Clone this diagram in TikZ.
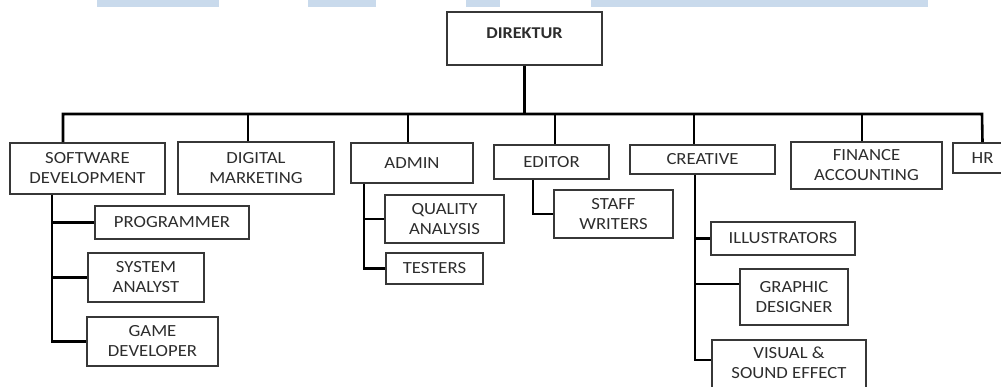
\documentclass[tikz,border=0pt]{standalone}
\usepackage{fontspec}
\setmainfont{Carlito}[FakeStretch=1.1]
\definecolor{stripblue}{RGB}{201,218,236}
\definecolor{boxline}{RGB}{55,55,55}
\definecolor{boxtext}{RGB}{45,45,45}
\tikzset{
  unit/.style={draw=boxline, line width=1.6pt, inner sep=0pt, align=center,
    text=boxtext, font=\fontsize{17}{20}\selectfont},
  link/.style={line width=2.6pt, black}
}
\begin{document}
\begin{tikzpicture}[x=1pt, y=-1pt]

    % Page size of the reference
    \useasboundingbox (0,0) rectangle (1001,386);
    \clip (0,0) rectangle (1001,386);

    % Light strips along the top edge
    \fill[stripblue] (97,0) rectangle (219,7);
    \fill[stripblue] (308,0) rectangle (376,7);
    \fill[stripblue] (466,0) rectangle (500,7);
    \fill[stripblue] (591,0) rectangle (928,7);

    % Head of the chart
    \node[unit, minimum width=155pt, minimum height=53pt, text depth=11pt,
      font=\fontsize{16.5}{19}\selectfont\bfseries] (direktur) at (524.5,38.5) {DIREKTUR};

    % Divisions
    \node[unit, minimum width=155pt, minimum height=51pt] (software) at (87.5,168.5) {SOFTWARE\\DEVELOPMENT};
    \node[unit, minimum width=156pt, minimum height=52pt] (digital) at (256,168) {DIGITAL\\MARKETING};
    \node[unit, minimum width=122pt, minimum height=40pt] (admin) at (412,163) {ADMIN};
    \node[unit, minimum width=115pt, minimum height=34pt] (editor) at (551.5,162) {EDITOR};
    \node[unit, minimum width=145pt, minimum height=29pt] (creative) at (702.5,159.5) {CREATIVE};
    \node[unit, minimum width=151pt, minimum height=47pt] (finance) at (866.5,165.5) {FINANCE\\ACCOUNTING};
    \node[unit, minimum width=59pt, minimum height=30pt] (hr) at (982.5,158) {HR};

    % Staff under software development
    \node[unit, minimum width=154pt, minimum height=33pt] (programmer) at (172,222.5) {PROGRAMMER};
    \node[unit, minimum width=116pt, minimum height=49pt] (system) at (146,277.5) {SYSTEM\\ANALYST};
    \node[unit, minimum width=131pt, minimum height=49pt] (game) at (152.5,341.5) {GAME\\DEVELOPER};

    % Staff under admin and editor
    \node[unit, minimum width=119pt, minimum height=48pt] (quality) at (444.5,219) {QUALITY\\ANALYSIS};
    \node[unit, minimum width=97pt, minimum height=31pt] (testers) at (434.5,268.5) {TESTERS};
    \node[unit, minimum width=119pt, minimum height=48pt] (staff) at (613.5,214) {STAFF\\WRITERS};

    % Staff under creative
    \node[unit, minimum width=144pt, minimum height=33pt] (illustrators) at (783,238.5) {ILLUSTRATORS};
    \node[unit, minimum width=108pt, minimum height=56pt] (graphic) at (794,297) {GRAPHIC\\DESIGNER};
    \node[unit, minimum width=154pt, minimum height=54pt, text depth=8pt] (visual) at (789,367) {VISUAL \&\\SOUND EFFECT};

    % Bus line below the head
    \coordinate (busL) at (63,114);
    \coordinate (busR) at (982,114);
    \draw[link] (direktur.south) -- (direktur.south |- busL);
    \draw[link] ([xshift=-24.5pt]software.north) -- (busL) -- (busR) -- (hr.north);

    % Drops to the divisions
    \draw[link] ([xshift=-8pt]digital.north) -- ([xshift=-8pt]digital.north |- busL);
    \draw[link] ([xshift=-4pt]admin.north) -- ([xshift=-4pt]admin.north |- busL);
    \draw[link] ([xshift=3.5pt]editor.north) -- ([xshift=3.5pt]editor.north |- busL);
    \draw[link] ([xshift=-8.5pt]creative.north) -- ([xshift=-8.5pt]creative.north |- busL);
    \draw[link] ([xshift=-4.5pt]finance.north) -- ([xshift=-4.5pt]finance.north |- busL);

    % Branches inside the divisions
    \coordinate (swstem) at ([xshift=-35.5pt]software.south);
    \draw[link] (swstem) |- (game.west);
    \draw[link] (swstem) |- (system.west);
    \draw[link] (swstem) |- (programmer.west);

    \coordinate (adstem) at ([xshift=-48pt]admin.south);
    \draw[link] (adstem) |- (testers.west);
    \draw[link] (adstem) |- (quality.west);

    \coordinate (edstem) at ([xshift=-18.5pt]editor.south);
    \draw[link] (edstem) |- (staff.west);

    \coordinate (crstem) at ([xshift=-7.5pt]creative.south);
    \draw[link] (crstem) |- ([yshift=7pt]visual.west);
    \draw[link] (crstem) |- ([yshift=13pt]graphic.west);
    \draw[link] (crstem) |- (illustrators.west);

\end{tikzpicture}
\end{document}
